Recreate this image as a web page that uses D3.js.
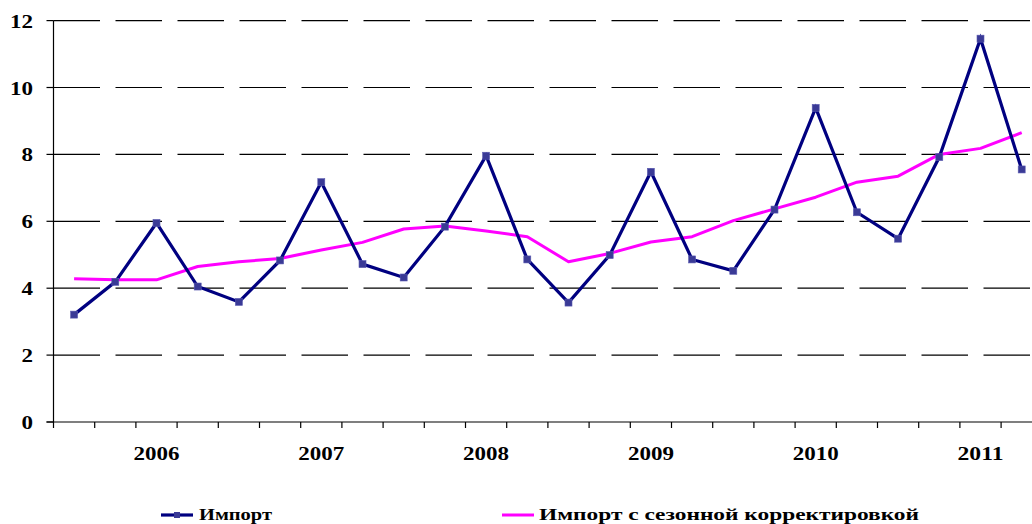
<!DOCTYPE html>
<html><head><meta charset="utf-8">
<script src="https://cdn.jsdelivr.net/npm/d3@7"></script>
<style>
html,body{margin:0;padding:0;background:#fff;}
svg{display:block;}
</style></head>
<body>
<svg id="chart" width="1032" height="524" font-family="Liberation Serif, Times New Roman, serif" font-weight="bold"></svg>
<script>
// Quarters from 2005 Q3 to 2011 Q2
const quarters = ["2005 Q3","2005 Q4","2006 Q1","2006 Q2","2006 Q3","2006 Q4","2007 Q1","2007 Q2","2007 Q3","2007 Q4","2008 Q1","2008 Q2","2008 Q3","2008 Q4","2009 Q1","2009 Q2","2009 Q3","2009 Q4","2010 Q1","2010 Q2","2010 Q3","2010 Q4","2011 Q1","2011 Q2"];
const importValues = [3.21,4.19,5.95,4.05,3.59,4.83,7.17,4.72,4.32,5.84,7.96,4.86,3.57,4.99,7.48,4.86,4.52,6.35,9.39,6.27,5.48,7.92,11.46,7.55];
const adjustedValues = [4.28,4.25,4.25,4.65,4.79,4.89,5.14,5.37,5.77,5.86,5.71,5.54,4.79,5.04,5.38,5.54,6.02,6.37,6.72,7.17,7.35,8.00,8.18,8.65];
const yTicks = [0,2,4,6,8,10,12];
const yearLabels = ["2006","2007","2008","2009","2010","2011"];
const seriesNames = ["Импорт","Импорт с сезонной корректировкой"];

const svg = d3.select("#chart");
const left = 53.5, bandW = 41.2;
const x = d3.scaleBand().domain(quarters).range([left, left + bandW*quarters.length]).padding(0);
const y = d3.scaleLinear().domain([0,12]).range([422, 20.6]);
const cx = d => x(d) + x.bandwidth()/2;
const FONT = "'Liberation Serif', 'Times New Roman', serif";

// gridlines
svg.append("g").selectAll("line").data(yTicks.filter(v=>v>0)).join("line")
  .attr("x1", left).attr("x2", x.range()[1])
  .attr("y1", d=>y(d)).attr("y2", d=>y(d))
  .attr("stroke","#000").attr("stroke-width",1.2)
  .attr("stroke-dasharray","46.5,15.5");

// y axis line and ticks
svg.append("line").attr("x1",left).attr("x2",left).attr("y1",y(12)).attr("y2",y(0))
  .attr("stroke","#000").attr("stroke-width",1.2);
svg.append("g").selectAll("line").data(yTicks).join("line")
  .attr("x1",left-7).attr("x2",left).attr("y1",d=>y(d)).attr("y2",d=>y(d))
  .attr("stroke","#000").attr("stroke-width",1.2);
svg.append("g").selectAll("text").data(yTicks).join("text")
  .attr("x",33).attr("y",d=>y(d)+7).attr("text-anchor","end")
  .attr("font-family",FONT).attr("font-weight","bold")
  .attr("font-size",19.5)
  .attr("textLength",d=>String(d).length*11.5).attr("lengthAdjust","spacingAndGlyphs")
  .text(d=>d);

// x axis line and ticks
svg.append("line").attr("x1",left-7).attr("x2",x.range()[1]).attr("y1",y(0)).attr("y2",y(0))
  .attr("stroke","#000").attr("stroke-width",1.2);
const tickPos = quarters.map(q=>x(q)).concat([x.range()[1]]);
svg.append("g").selectAll("line").data(tickPos).join("line")
  .attr("x1",d=>d).attr("x2",d=>d).attr("y1",y(0)).attr("y2",y(0)+6)
  .attr("stroke","#000").attr("stroke-width",1.2);
svg.append("g").selectAll("text").data(yearLabels).join("text")
  .attr("x",d=>cx(d+" Q1")).attr("y",460).attr("text-anchor","middle")
  .attr("font-family",FONT).attr("font-weight","bold")
  .attr("font-size",19.5)
  .attr("textLength",46).attr("lengthAdjust","spacingAndGlyphs")
  .text(d=>d);

// lines
const line = vals => d3.line().x((d,i)=>cx(quarters[i])).y(d=>y(d))(vals);
svg.append("path").attr("d",line(adjustedValues)).attr("fill","none")
  .attr("stroke","#FF00FF").attr("stroke-width",3).attr("stroke-linejoin","round");
svg.append("path").attr("d",line(importValues)).attr("fill","none")
  .attr("stroke","#000080").attr("stroke-width",3.2).attr("stroke-linejoin","miter");
svg.append("g").selectAll("rect").data(importValues).join("rect")
  .attr("x",(d,i)=>cx(quarters[i])-3.5).attr("y",d=>y(d)-3.5)
  .attr("width",7).attr("height",7)
  .attr("fill","#3a3a96").attr("stroke","#5a5ab0").attr("stroke-width",0.6);

// legend
const lg = svg.append("g");
lg.append("line").attr("x1",161).attr("x2",193).attr("y1",515).attr("y2",515)
  .attr("stroke","#000080").attr("stroke-width",3.2);
lg.append("rect").attr("x",174).attr("y",512).attr("width",6).attr("height",6)
  .attr("fill","#3a3a96");
lg.append("text").attr("x",199).attr("y",520).attr("font-size",16.5)
  .attr("font-family",FONT).attr("font-weight","bold")
  .attr("textLength",73).attr("lengthAdjust","spacingAndGlyphs").text(seriesNames[0]);
lg.append("line").attr("x1",502).attr("x2",534).attr("y1",515).attr("y2",515)
  .attr("stroke","#FF00FF").attr("stroke-width",3);
lg.append("text").attr("x",539).attr("y",520).attr("font-size",16.5)
  .attr("font-family",FONT).attr("font-weight","bold")
  .attr("textLength",380).attr("lengthAdjust","spacingAndGlyphs").text(seriesNames[1]);
</script>
</body></html>
